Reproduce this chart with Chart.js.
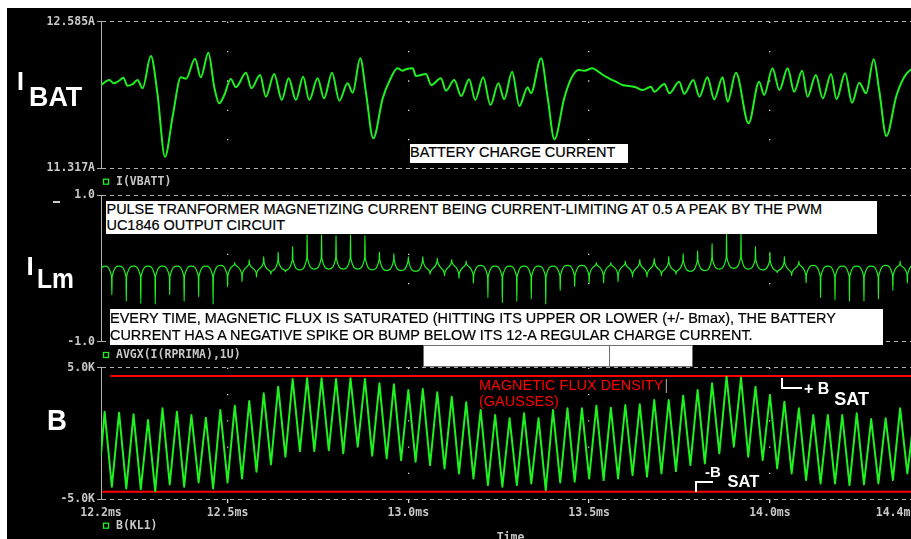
<!DOCTYPE html>
<html>
<head>
<meta charset="utf-8">
<script src="https://cdn.jsdelivr.net/npm/chart.js@4.4.1/dist/chart.umd.min.js"></script>
<style>
  html, body { margin: 0; padding: 0; width: 911px; height: 539px; overflow: hidden; background: #fff; }
  #scope { position: absolute; left: 7px; top: 8px; width: 904px; height: 531px; background: #000; overflow: hidden; }
  #scope canvas { position: absolute; left: -7px; top: -8px; }
  .lbl { position: absolute; white-space: nowrap; font-family: "Liberation Sans", Arial, sans-serif; }
  .big { color: #fff; font-weight: bold; line-height: 1; transform-origin: left top; }
  .note { background: #fff; color: #000; font-size: 14.45px; line-height: 16.7px; box-sizing: border-box; -webkit-text-stroke: 0.2px #000; }
  .blank { position: absolute; background: #fff; border: 1px solid #707070; box-sizing: border-box; }
  .bracket { position: absolute; border-color: #fff; border-style: solid; border-width: 0; }
</style>
</head>
<body>
<div id="scope">
  <canvas id="ibat" width="925" height="560"></canvas>
  <canvas id="ilm" width="925" height="560"></canvas>
  <canvas id="flux" width="925" height="560"></canvas>
</div>

<!-- trace names on the left -->
<div class="lbl big" style="left:17px; top:68.8px; font-size:25px;">I</div>
<div class="lbl big" style="left:28.7px; top:83px; font-size:28px; transform:scaleX(0.96);">BAT</div>
<div class="lbl big" style="left:26.6px; top:253px; font-size:26px;">I</div>
<div class="lbl big" style="left:37.3px; top:264.6px; font-size:28px; transform:scaleX(0.88);">Lm</div>
<div class="lbl big" style="left:47.1px; top:405.3px; font-size:30px; transform:scaleX(0.92);">B</div>
<div style="position:absolute; left:53px; top:201px; width:7px; height:1.5px; background:#ccc;"></div>

<!-- annotations -->
<div class="lbl note" style="left:409.5px; top:143.5px; width:218.5px; height:19.5px; padding-left:0.5px;">BATTERY CHARGE CURRENT</div>
<div class="lbl note" style="left:106px; top:200.7px; width:771px; height:33.3px; padding-left:0.5px;">PULSE TRANFORMER MAGNETIZING CURRENT BEING CURRENT-LIMITING AT 0.5 A PEAK BY THE PWM<br>UC1846 OUTPUT CIRCUIT</div>
<div class="lbl note" style="left:110px; top:309.3px; width:773px; height:35.7px; padding-top:0.7px;">EVERY TIME, MAGNETIC FLUX IS SATURATED (HITTING ITS UPPER OR LOWER (+/- Bmax), THE BATTERY<br>CURRENT HAS A NEGATIVE SPIKE OR BUMP BELOW ITS 12-A REGULAR CHARGE CURRENT.</div>
<div class="blank" style="left:423px; top:345px; width:187px; height:22px;"></div>
<div class="blank" style="left:609px; top:345px; width:84px; height:22px;"></div>

<div class="lbl" style="left:479px; top:376.7px; font-size:14.5px; line-height:16.5px; color:#ff0000;">MAGNETIC FLUX DENSITY<span style="color:#9a9a9a; margin-left:1px;">|</span><br>(GAUSSES)</div>

<div class="bracket" style="left:781px; top:378px; width:19px; height:9px; border-left-width:2px; border-bottom-width:2px;"></div>
<div class="lbl big" style="left:804px; top:380.8px; font-size:16px;">+ B</div>
<div class="lbl big" style="left:834.3px; top:389.8px; font-size:18px;">SAT</div>
<div class="bracket" style="left:695px; top:481px; width:16px; height:9px; border-left-width:2px; border-top-width:2px;"></div>
<div class="lbl big" style="left:705px; top:464px; font-size:15px;">-B</div>
<div class="lbl big" style="left:727.6px; top:472.7px; font-size:16.5px;">SAT</div>

<script>
// time axis (ms)
const timeMin = 12.15;
const timeMax = 14.415;
const timeTicks = [12.15, 12.5, 13.0, 13.5, 14.0, 14.35];
const timeTickLabels = ['12.2ms', '12.5ms', '13.0ms', '13.5ms', '14.0ms', '14.4ms'];

// I(VBATT) battery current, A
const ibatRange = [11.317, 12.585];
const ibatTickLabels = ['11.317A', '12.585A'];
const ibatTime = [
  12.150, 12.173, 12.185, 12.199, 12.212, 12.223, 12.237, 12.251, 12.265, 12.288,
  12.306, 12.327, 12.348, 12.371, 12.385, 12.410, 12.426, 12.447, 12.463, 12.477,
  12.491, 12.509, 12.523, 12.551, 12.566, 12.590, 12.606, 12.629, 12.650, 12.669,
  12.689, 12.709, 12.726, 12.749, 12.767, 12.789, 12.809, 12.832, 12.846, 12.867,
  12.883, 12.903, 12.929, 12.949, 12.970, 12.984, 12.993, 13.012, 13.021, 13.049,
  13.063, 13.090, 13.104, 13.127, 13.146, 13.168, 13.185, 13.207, 13.227, 13.249,
  13.265, 13.287, 13.307, 13.330, 13.339, 13.367, 13.385, 13.404, 13.431, 13.452,
  13.471, 13.487, 13.509, 13.528, 13.546, 13.560, 13.574, 13.592, 13.611, 13.629,
  13.648, 13.671, 13.680, 13.708, 13.722, 13.749, 13.763, 13.788, 13.805, 13.827,
  13.846, 13.869, 13.883, 13.906, 13.941, 13.970, 13.984, 14.007, 14.026, 14.049,
  14.067, 14.089, 14.104, 14.127, 14.146, 14.169, 14.184, 14.208, 14.227, 14.247,
  14.266, 14.287, 14.302, 14.322, 14.349, 14.371, 14.388, 14.415
];
const ibatAmps = [
  12.037, 12.081, 12.052, 12.072, 12.101, 12.031, 12.044, 12.081, 12.009, 12.288,
  11.966, 11.417, 11.763, 12.104, 12.092, 12.265, 12.104, 12.317, 12.023, 11.879,
  11.951, 12.089, 12.018, 12.144, 12.009, 12.124, 11.936, 12.133, 11.908, 12.095,
  11.908, 12.109, 11.908, 12.095, 11.922, 12.144, 11.902, 12.052, 11.971, 12.268,
  11.966, 11.576, 11.922, 12.081, 12.182, 12.161, 12.173, 12.182, 12.115, 12.133,
  12.037, 12.095, 11.988, 12.081, 11.942, 12.087, 11.908, 12.104, 11.864, 12.052,
  11.914, 12.152, 11.856, 12.018, 11.966, 12.268, 11.936, 11.568, 11.922, 12.104,
  12.167, 12.161, 12.182, 12.146, 12.109, 12.087, 12.066, 12.037, 12.029, 12.018,
  11.994, 12.023, 11.979, 12.046, 11.966, 12.066, 11.960, 12.081, 11.936, 12.104,
  11.914, 12.104, 11.893, 12.144, 11.706, 12.066, 11.951, 12.182, 11.994, 12.182,
  11.979, 12.161, 11.936, 12.124, 11.922, 12.133, 11.914, 12.139, 11.884, 12.057,
  11.966, 12.260, 11.994, 11.596, 11.936, 12.104, 12.167, 12.200
];

// B(KL1) and AVGX(I(RPRIMA),1U) turn at every flux peak / valley, 20 us apart
const slotStart = 12.16;
const slotStep = 0.02;

// AVGX(I(RPRIMA),1U) magnetizing current, A: level at each turn and spike tip there
const lmRange = [-1.0, 1.0];
const lmTickLabels = ['-1.0', '1.0'];
const lmEdge = [0.0, 0.05];
const lmLevel = [
   0.03, -0.11,  0.03, -0.11,  0.03, -0.11,  0.03, -0.11,  0.03, -0.11,
   0.03, -0.11,  0.03, -0.11,  0.03, -0.11,  0.04, -0.10,  0.05, -0.08,
   0.06, -0.06,  0.08, -0.05,  0.10, -0.03,  0.12, -0.02,  0.14, -0.01,
   0.14, -0.01,  0.14, -0.01,  0.14, -0.01,  0.14, -0.02,  0.12, -0.03,
   0.11, -0.03,  0.10, -0.04,  0.10, -0.05,  0.09, -0.06,  0.08, -0.07,
   0.06, -0.09,  0.04, -0.11,  0.03, -0.11,  0.03, -0.11,  0.03, -0.11,
   0.03, -0.11,  0.03, -0.10,  0.04, -0.10,  0.04, -0.09,  0.05, -0.09,
   0.05, -0.08,  0.06, -0.07,  0.07, -0.07,  0.08, -0.06,  0.08, -0.05,
   0.10, -0.04,  0.11, -0.03,  0.13, -0.01,  0.15,  0.00,  0.15, -0.01,
   0.12, -0.02,  0.10, -0.04,  0.08, -0.06,  0.06, -0.09,  0.04, -0.11,
   0.03, -0.11,  0.03, -0.11,  0.03, -0.11,  0.03, -0.11,  0.04, -0.10,
   0.05, -0.08
];
const lmSpike = [
   0.03, -0.36,  0.03, -0.45,  0.03, -0.48,  0.03, -0.49,  0.03, -0.36,
   0.03, -0.45,  0.03, -0.39,  0.03, -0.49,  0.04, -0.25,  0.08, -0.18,
   0.12, -0.12,  0.16, -0.08,  0.22, -0.05,  0.30, -0.02,  0.46, -0.01,
   0.46, -0.01,  0.45, -0.01,  0.46, -0.01,  0.45, -0.02,  0.22, -0.03,
   0.20, -0.03,  0.16, -0.04,  0.16, -0.08,  0.14, -0.10,  0.12, -0.14,
   0.10, -0.20,  0.04, -0.40,  0.03, -0.47,  0.03, -0.45,  0.03, -0.42,
   0.03, -0.49,  0.03, -0.30,  0.04, -0.25,  0.04, -0.20,  0.08, -0.20,
   0.08, -0.18,  0.10, -0.12,  0.12, -0.12,  0.14, -0.10,  0.16, -0.08,
   0.20, -0.04,  0.24, -0.03,  0.34, -0.01,  0.48,  0.00,  0.48, -0.01,
   0.30, -0.02,  0.22, -0.06,  0.16, -0.10,  0.10, -0.20,  0.04, -0.40,
   0.03, -0.43,  0.03, -0.45,  0.03, -0.45,  0.03, -0.42,  0.04, -0.30,
   0.10, -0.20
];

// B(KL1) flux density, gauss: alternating peak / valley from slotStart
const bRange = [-5000, 5000];
const bTickLabels = ['-5.0K', '5.0K'];
const bEdge = [-1650, 1500];
const bExtreme = [
   1650, -4065,  1574, -4192,  1447, -4243,  1015, -4395,  1904, -3887,
   1650, -4065,  1396, -3735,  1193, -4192,  1777, -3735,  2107, -3430,
   2463, -2922,  3047, -2363,  3555, -1779,  4139, -1347,  4190, -1347,
   4190, -1271,  4139, -1525,  4190, -1017,  4139, -1703,  3809, -1906,
   3733, -2033,  3301, -2160,  3377, -2414,  3123, -2668,  2793, -3049,
   2361, -3430,  1777, -3938,  1396, -4065,  1142, -3938,  1523, -3811,
   1142, -4319,  1777, -3735,  1904, -3684,  1904, -3430,  2107, -3557,
   1955, -3430,  2158, -3176,  2209, -3303,  2539, -3049,  2539, -2871,
   2869, -2414,  3301, -2287,  3809, -1525,  4317, -1017,  4241, -1779,
   3555, -2033,  2920, -2668,  2412, -3049,  1904, -3557,  1396, -3811,
   1396, -3811,  1396, -3938,  1523, -3887,  1091, -3811,  1142, -3557,
   1904, -3049
];
// saturation limits +Bsat / -Bsat and where each line starts
const bSatLevel = [4370, -4445];
const bSatStart = [12.178, 12.156];

const GREEN = '#1ff01f';
const GRID = '#b0b0b0';
const AXIS_FONT = { family: 'DejaVu Sans Mono', size: 11.5, weight: 'bold' };

const ibatPoints = ibatTime.map((t, i) => ({ x: t, y: ibatAmps[i] }));

const lmPoints = [{ x: timeMin, y: lmEdge[0] }];
lmLevel.forEach((lvl, k) => {
  const t = slotStart + k * slotStep;
  if (lmSpike[k] !== lvl) {
    lmPoints.push({ x: t - 0.0008, y: lvl }, { x: t, y: lmSpike[k] }, { x: t + 0.0008, y: lvl });
  } else {
    lmPoints.push({ x: t, y: lvl });
  }
});
lmPoints.push({ x: slotStart + lmLevel.length * slotStep, y: lmEdge[1] });

const bPoints = [{ x: timeMin, y: bEdge[0] }];
bExtreme.forEach((v, k) => bPoints.push({ x: slotStart + k * slotStep, y: v }));
bPoints.push({ x: slotStart + bExtreme.length * slotStep, y: bEdge[1] });

// little green box + trace name under each plot
const traceName = {
  id: 'traceName',
  afterDraw(chart, args, opts) {
    const ctx = chart.ctx;
    const x = chart.chartArea.left;
    ctx.save();
    ctx.strokeStyle = GREEN;
    ctx.lineWidth = 1.3;
    ctx.strokeRect(x + 2.5, opts.y - 2.5, 5, 5);
    ctx.fillStyle = '#c8c8c8';
    ctx.font = 'bold 11.5px "DejaVu Sans Mono"';
    ctx.textBaseline = 'middle';
    ctx.fillText(opts.text, x + 15, opts.y + 0.5);
    ctx.restore();
  }
};

function panel(id, p) {
  const divs = (p.bottomPx - p.topPx) / 5;
  const edgeTick = (c) => (c.index === 0 || c.index === timeTicks.length - 1) ? 'rgba(0,0,0,0)' : '#d8d8d8';
  return new Chart(document.getElementById(id), {
    type: 'line',
    data: { datasets: p.datasets },
    options: {
      responsive: false,
      animation: false,
      events: [],
      devicePixelRatio: 1,
      layout: { padding: { left: 0, right: 5, top: p.topPx, bottom: 560 - p.bottomPx - p.xHeight } },
      elements: {
        point: { radius: 0 },
        line: { borderJoinStyle: 'round', borderCapStyle: 'round' }
      },
      plugins: {
        legend: { display: false },
        tooltip: { enabled: false },
        traceName: { text: p.name, y: p.nameY }
      },
      scales: {
        x: {
          type: 'linear',
          min: timeMin,
          max: timeMax,
          afterBuildTicks: (s) => { s.ticks = timeTicks.map(v => ({ value: v })); },
          afterFit: (s) => { s.height = p.xHeight; },
          ticks: {
            display: p.showTime,
            color: '#c8c8c8',
            font: AXIS_FONT,
            padding: 3,
            maxRotation: 0,
            autoSkip: false,
            callback: (v, i) => timeTickLabels[i]
          },
          grid: {
            color: edgeTick,
            lineWidth: 1.3,
            drawTicks: p.showTime,
            tickLength: 4,
            tickColor: edgeTick,
            borderDash: [1.3, divs - 1.3]
          },
          border: { display: false, dash: [1.3, divs - 1.3] },
          title: {
            display: p.showTime,
            text: 'Time',
            color: '#c8c8c8',
            font: AXIS_FONT,
            padding: { top: 4, bottom: 4 }
          }
        },
        y: {
          type: 'linear',
          min: p.range[0],
          max: p.range[1],
          afterBuildTicks: (s) => { s.ticks = p.range.map(v => ({ value: v })); },
          afterFit: (s) => { s.width = 101; },
          ticks: {
            color: '#c8c8c8',
            font: AXIS_FONT,
            padding: 2,
            callback: (v, i) => p.tickLabels[i]
          },
          grid: {
            color: GRID,
            lineWidth: 1,
            tickLength: 4,
            tickColor: GRID,
            borderDash: [4, 4]
          },
          border: { display: true, color: GRID, width: 1, dash: [4, 4] }
        }
      }
    },
    plugins: [traceName]
  });
}

panel('ibat', {
  topPx: 21.7, bottomPx: 168.3, xHeight: 0, showTime: false,
  range: ibatRange, tickLabels: ibatTickLabels,
  name: 'I(VBATT)', nameY: 181.7,
  datasets: [{
    data: ibatPoints,
    borderColor: GREEN,
    borderWidth: 2,
    cubicInterpolationMode: 'monotone'
  }]
});

panel('ilm', {
  topPx: 195, bottomPx: 341.7, xHeight: 0, showTime: false,
  range: lmRange, tickLabels: lmTickLabels,
  name: 'AVGX(I(RPRIMA),1U)', nameY: 355,
  datasets: [{
    data: lmPoints,
    borderColor: GREEN,
    borderWidth: 1.2,
    cubicInterpolationMode: 'monotone'
  }]
});

panel('flux', {
  topPx: 367.7, bottomPx: 499, xHeight: 50, showTime: true,
  range: bRange, tickLabels: bTickLabels,
  name: 'B(KL1)', nameY: 525.7,
  datasets: [
    {
      data: bPoints,
      borderColor: GREEN,
      borderWidth: 2,
      tension: 0
    },
    {
      data: [{ x: bSatStart[0], y: bSatLevel[0] }, { x: timeMax, y: bSatLevel[0] }],
      borderColor: '#ff0000',
      borderWidth: 2
    },
    {
      data: [{ x: bSatStart[1], y: bSatLevel[1] }, { x: timeMax, y: bSatLevel[1] }],
      borderColor: '#ff0000',
      borderWidth: 2
    }
  ]
});
</script>
</body>
</html>
